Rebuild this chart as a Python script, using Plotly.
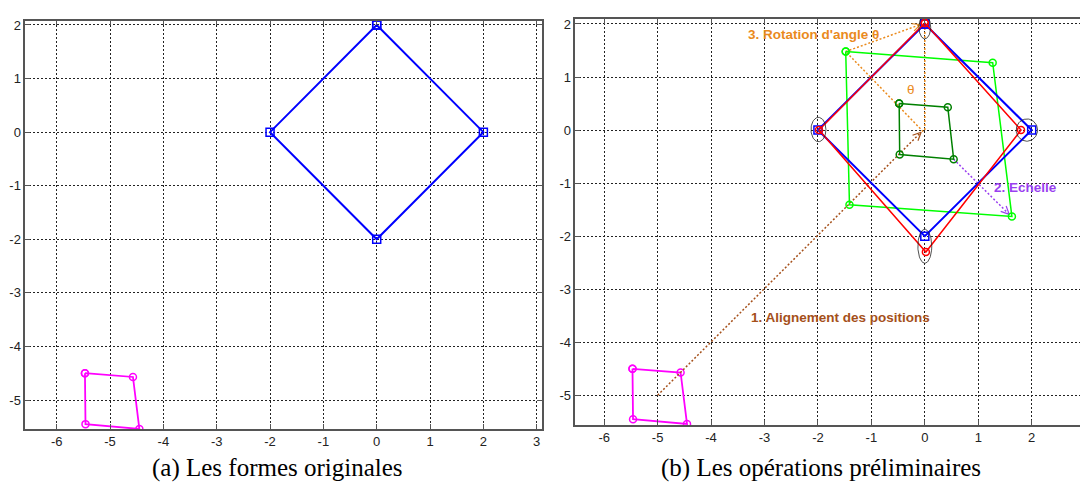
import numpy as np
import plotly.graph_objects as go

# ---------------- data ----------------
# reference shape (blue diamond)
ref_x = [0, 2, 0, -2]
ref_y = [2, 0, -2, 0]
# original shape (magenta)
orig_x = [-5.47, -4.57, -4.45, -5.46]
orig_y = [-4.50, -4.57, -5.54, -5.45]
# shape after position alignment (dark green)
aligned_x = [-0.48, 0.43, 0.54, -0.47]
aligned_y = [0.50, 0.43, -0.55, -0.46]
# shape after scaling (bright green)
scaled_x = [-1.48, 1.27, 1.63, -1.41]
scaled_y = [1.48, 1.27, -1.63, -1.41]
# shape after rotation (red)
rotated_x = [0.0, 1.80, 0.02, -1.98]
rotated_y = [2.02, 0.0, -2.30, 0.0]
# correspondence ellipses (center x, center y, radius x, radius y)
ell_cx = [0.0, -1.99, 1.91, 0.0]
ell_cy = [1.94, 0.01, 0.0, -2.19]
ell_rx = [0.11, 0.14, 0.20, 0.13]
ell_ry = [0.22, 0.23, 0.21, 0.32]
# arrows (start -> end)
align_arrow = ([-5.0, -5.0], [-0.07, -0.04])
scale_arrow = ([0.54, -0.55], [1.58, -1.59])
rot_arrow = ([-1.48, 1.48], [-0.08, 1.99])
rot_guides = [([0.0, 0.0], [0.0, 2.0]), ([-0.03, -0.03], [-1.48, 1.48])]
# labels
label_texts = ["3. Rotation d'angle θ", "2. Echelle", "1. Alignement des positions", "θ"]
label_x = [-2.08, 1.88, -1.57, -0.26]
label_y = [1.81, -1.08, -3.54, 0.77]
captions = ["(a) Les formes originales", "(b) Les opérations préliminaires"]
# ticks
xticks_a = [-6, -5, -4, -3, -2, -1, 0, 1, 2, 3]
xticks_b = [-6, -5, -4, -3, -2, -1, 0, 1, 2]
yticks = [-5, -4, -3, -2, -1, 0, 1, 2]

# ---------------- styles ----------------
BLUE = "#0000ff"
MAGENTA = "#ff00ff"
DKGREEN = "#008000"
LTGREEN = "#00ff00"
RED = "#ff0000"
BROWN = "#a5501a"
ORANGE = "#ea8a1c"
PURPLE = "#9a3ff0"


def closed(a):
    return list(a) + [a[0]]


fig = go.Figure()


def shape_trace(xs, ys, color, symbol, width, xa, ya, msize=7):
    fig.add_trace(go.Scatter(
        x=closed(xs), y=closed(ys), mode="lines+markers",
        line=dict(color=color, width=width),
        marker=dict(symbol=symbol, size=msize, color=color, line=dict(color=color, width=1.5)),
        xaxis=xa, yaxis=ya, showlegend=False, hoverinfo="skip"))


def dotted(p0, p1, color, xa, ya):
    fig.add_trace(go.Scatter(
        x=[p0[0], p1[0]], y=[p0[1], p1[1]], mode="lines",
        line=dict(color=color, width=1.5, dash="2px,2px"),
        xaxis=xa, yaxis=ya, showlegend=False, hoverinfo="skip"))


def arrow(p0, p1, color, xa, ya):
    dotted(p0, p1, color, xa, ya)
    s = np.array(p0, float)
    e = np.array(p1, float)
    d = (e - s) / np.linalg.norm(e - s)
    L = 0.17
    xs, ys = [], []
    for ang in (np.radians(25), -np.radians(25)):
        r = np.array([d[0] * np.cos(ang) - d[1] * np.sin(ang),
                      d[0] * np.sin(ang) + d[1] * np.cos(ang)])
        w = e - L * r
        xs += [w[0], e[0], None]
        ys += [w[1], e[1], None]
    fig.add_trace(go.Scatter(
        x=xs, y=ys, mode="lines", line=dict(color=color, width=1.2),
        xaxis=xa, yaxis=ya, showlegend=False, hoverinfo="skip"))


# ----- panel (a) -----
shape_trace(orig_x, orig_y, MAGENTA, "circle-open", 1.8, "x", "y")
shape_trace(ref_x, ref_y, BLUE, "square-open", 2.0, "x", "y", msize=8)

# ----- panel (b) -----
shape_trace(orig_x, orig_y, MAGENTA, "circle-open", 1.8, "x2", "y2")
arrow(*align_arrow, BROWN, "x2", "y2")
for g in rot_guides:
    dotted(g[0], g[1], ORANGE, "x2", "y2")
arrow(*rot_arrow, ORANGE, "x2", "y2")
arrow(*scale_arrow, PURPLE, "x2", "y2")
shape_trace(aligned_x, aligned_y, DKGREEN, "circle-open", 1.5, "x2", "y2")
shape_trace(scaled_x, scaled_y, LTGREEN, "circle-open", 1.5, "x2", "y2")
shape_trace(ref_x, ref_y, BLUE, "square-open", 2.0, "x2", "y2", msize=8)
shape_trace(rotated_x, rotated_y, RED, "circle-open", 1.5, "x2", "y2")

# ellipses
t = np.linspace(0, 2 * np.pi, 80)
for cx, cy, rx, ry in zip(ell_cx, ell_cy, ell_rx, ell_ry):
    fig.add_trace(go.Scatter(
        x=cx + rx * np.cos(t), y=cy + ry * np.sin(t), mode="lines",
        line=dict(color="#222222", width=0.8),
        xaxis="x2", yaxis="y2", showlegend=False, hoverinfo="skip"))

# labels
label_colors = [ORANGE, PURPLE, BROWN, ORANGE]
for txt, lx, ly, col in zip(label_texts, label_x, label_y, label_colors):
    fig.add_annotation(x=lx, y=ly, xref="x2", yref="y2", text=f"<b>{txt}</b>" if txt != "θ" else txt,
                       showarrow=False, font=dict(family="Liberation Sans", size=13.5, color=col))

for cap, cx in zip(captions, [0.2574, 0.760]):
    fig.add_annotation(x=cx, y=0.038, xref="paper", yref="paper", text=cap, showarrow=False,
                       xanchor="center", yanchor="middle",
                       font=dict(family="Liberation Serif", size=25, color="black"))

axis_common = dict(
    showgrid=True, gridcolor="#222222", griddash="2px,2px", gridwidth=1,
    zeroline=False, showline=True, linecolor="#555555", linewidth=1.5,
    ticks="inside", ticklen=5, tickcolor="#555555", tickwidth=1,
    tickfont=dict(family="Liberation Sans", size=13, color="#222222"),
    tickmode="array", automargin=False,
)

fig.update_layout(
    width=1080, height=487,
    margin=dict(l=0, r=0, t=0, b=0),
    paper_bgcolor="white", plot_bgcolor="white",
    showlegend=False,
    xaxis=dict(**axis_common, domain=[0.0234, 0.5016], range=[-6.589, 3.094],
               tickvals=xticks_a, ticktext=[str(v) for v in xticks_a], mirror="ticks", anchor="y"),
    yaxis=dict(**axis_common, domain=[0.1191, 0.9575], range=[-5.541, 2.08],
               tickvals=yticks, ticktext=[str(v) for v in yticks], mirror="ticks", anchor="x"),
    xaxis2=dict(**axis_common, domain=[0.5327, 1.0], range=[-6.54, 2.904],
                tickvals=xticks_b, ticktext=[str(v) for v in xticks_b], mirror="ticks", anchor="y2"),
    yaxis2=dict(**axis_common, domain=[0.1273, 0.961], range=[-5.56, 2.094],
                tickvals=yticks, ticktext=[str(v) for v in yticks], mirror=False, anchor="x2"),
)

fig.write_html("out.html", config={"displayModeBar": False},
               post_script="document.body.style.margin='0';document.body.style.overflow='hidden';")
